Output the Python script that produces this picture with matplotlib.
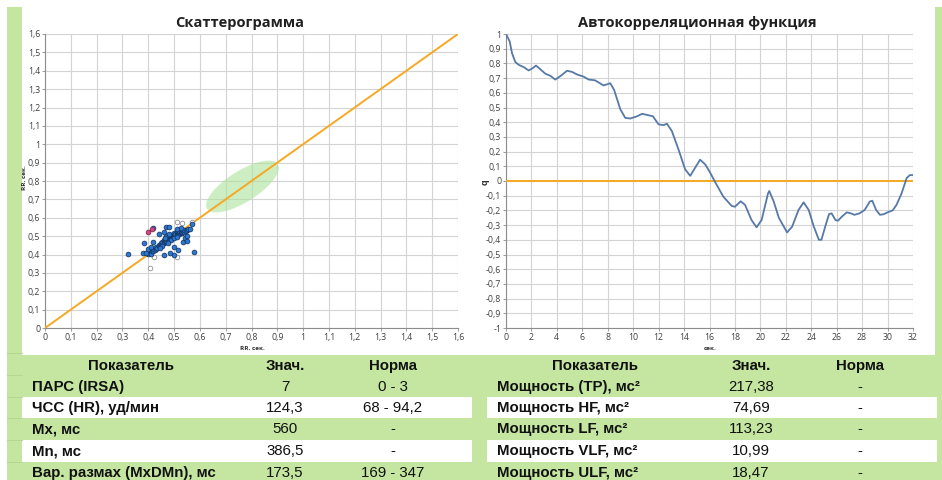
import matplotlib
matplotlib.use("Agg")
import matplotlib.pyplot as plt
import numpy as np
from matplotlib.patches import Rectangle, Polygon

# ---------------- data ----------------
# Scatterogram (RR_n vs RR_n+1), seconds
rr_x = [0.400,0.405,0.410,0.410,0.415,0.420,0.420,0.425,0.430,0.430,0.435,0.440,0.440,0.445,0.450,0.450,
        0.455,0.455,0.460,0.460,0.460,0.465,0.465,0.470,0.470,0.470,0.475,0.475,0.480,0.480,0.480,0.485,
        0.485,0.490,0.490,0.490,0.495,0.495,0.500,0.500,0.500,0.505,0.505,0.510,0.510,0.510,0.515,0.515,
        0.520,0.520,0.520,0.525,0.525,0.530,0.530,0.535,0.540,0.540,0.545,0.550,0.555,0.470,0.480,0.465,
        0.490,0.500,0.510,0.455,0.445,0.475,
        0.322,0.385,0.380,0.390,0.420,0.440,0.420,0.460,0.485,0.500,0.517,0.500,0.535,0.578,0.562,0.570,
        0.468,0.480,0.543,0.550,0.550,0.525,0.510,0.460,0.400,0.410]
rr_y = [0.405,0.410,0.415,0.402,0.420,0.418,0.428,0.425,0.432,0.440,0.438,0.445,0.452,0.448,0.455,0.462,
        0.458,0.468,0.462,0.470,0.478,0.472,0.480,0.475,0.485,0.492,0.480,0.488,0.482,0.490,0.498,0.487,
        0.495,0.490,0.500,0.508,0.495,0.505,0.498,0.508,0.515,0.502,0.512,0.505,0.515,0.522,0.512,0.525,
        0.510,0.520,0.530,0.518,0.528,0.515,0.525,0.530,0.522,0.535,0.528,0.535,0.540,0.500,0.510,0.490,
        0.480,0.490,0.495,0.445,0.435,0.465,
        0.402,0.460,0.410,0.410,0.545,0.510,0.470,0.400,0.410,0.400,0.425,0.440,0.470,0.415,0.540,0.565,
        0.550,0.550,0.490,0.500,0.475,0.545,0.540,0.525,0.430,0.440]
grey_x = [0.510, 0.530, 0.570, 0.423, 0.510, 0.405]
grey_y = [0.575, 0.570, 0.575, 0.385, 0.385, 0.325]
pink_x = [0.400, 0.413]
pink_y = [0.525, 0.540]
ellipse_center = (0.765, 0.77)
ellipse_axes = (0.185, 0.074)   # semi-axes along / across diagonal (data units)

# Autocorrelation function
acf_t = [0.0,0.29,0.47,0.73,1.0,1.39,1.78,2.05,2.36,2.7,3.09,3.5,3.87,4.3,4.8,5.2,5.58,6.1,6.5,7.0,7.67,
         8.2,8.5,8.98,9.37,9.77,10.3,10.7,11.07,11.55,12.0,12.4,12.65,13.04,13.56,14.08,14.48,14.87,15.26,
         15.66,16.05,16.44,17.09,17.75,18.0,18.45,18.8,19.3,19.7,20.1,20.6,20.7,21.05,21.45,22.1,22.5,23.0,
         23.4,23.8,24.2,24.6,24.8,25.1,25.4,25.6,25.9,26.1,26.4,26.8,27.1,27.4,27.8,28.2,28.6,28.8,29.1,
         29.4,29.7,30.0,30.4,30.7,31.1,31.5,31.75,32.0]
acf_q = [1.0,0.95,0.87,0.81,0.79,0.775,0.752,0.765,0.785,0.76,0.73,0.715,0.69,0.715,0.75,0.742,0.725,0.71,
         0.69,0.685,0.65,0.665,0.62,0.49,0.43,0.425,0.44,0.457,0.45,0.44,0.385,0.38,0.39,0.34,0.215,0.08,
         0.035,0.09,0.145,0.113,0.057,-0.007,-0.107,-0.17,-0.175,-0.138,-0.163,-0.265,-0.315,-0.265,-0.085,
         -0.068,-0.14,-0.25,-0.35,-0.31,-0.197,-0.145,-0.197,-0.31,-0.40,-0.40,-0.31,-0.225,-0.22,-0.265,
         -0.27,-0.243,-0.213,-0.22,-0.23,-0.22,-0.197,-0.14,-0.134,-0.197,-0.23,-0.226,-0.213,-0.2,-0.163,
         -0.085,0.02,0.04,0.04]

sc_ticks = [0,0.1,0.2,0.3,0.4,0.5,0.6,0.7,0.8,0.9,1.0,1.1,1.2,1.3,1.4,1.5,1.6]
sc_labels = ["0","0,1","0,2","0,3","0,4","0,5","0,6","0,7","0,8","0,9","1","1,1","1,2","1,3","1,4","1,5","1,6"]
acf_xticks = [0,2,4,6,8,10,12,14,16,18,20,22,24,26,28,30,32]
acf_xlabels = ["0","2","4","6","8","10","12","14","16","18","20","22","24","26","28","30","32"]
acf_yticks = [1,0.9,0.8,0.7,0.6,0.5,0.4,0.3,0.2,0.1,0,-0.1,-0.2,-0.3,-0.4,-0.5,-0.6,-0.7,-0.8,-0.9,-1]
acf_ylabels = ["1","0,9","0,8","0,7","0,6","0,5","0,4","0,3","0,2","0,1","0","-0,1","-0,2","-0,3","-0,4",
               "-0,5","-0,6","-0,7","-0,8","-0,9","-1"]

table_header = ["Показатель", "Знач.", "Норма"]
left_names = ["ПАРС (IRSA)", "ЧСС (HR), уд/мин", "Mx, мс", "Mn, мс", "Вар. размах (MxDMn), мс"]
left_values = ["7", "124,3", "560", "386,5", "173,5"]
left_norms = ["0 - 3", "68 - 94,2", "-", "-", "169 - 347"]
right_names = ["Мощность (TP), мс²", "Мощность HF, мс²", "Мощность LF, мс²", "Мощность VLF, мс²", "Мощность ULF, мс²"]
right_values = ["217,38", "74,69", "113,23", "10,99", "18,47"]
right_norms = ["-", "-", "-", "-", "-"]

# ---------------- figure ----------------
W, H = 942, 480
GREEN = "#c4e6a0"
ORANGE = "#f7a823"
fig = plt.figure(figsize=(W/100, H/100), dpi=100, facecolor="white")

def fx(x): return x / W
def fy(y): return 1 - y / H

def rect(x0, y0, x1, y1, color, z=-5):
    fig.patches.append(Rectangle((fx(x0), fy(y1)), (x1-x0)/W, (y1-y0)/H, transform=fig.transFigure,
                                 facecolor=color, edgecolor="none", zorder=z))

rect(7, 7, 942, 480, GREEN, -10)
rect(22, 7, 935, 355, "white", -9)
for (a, b) in [(397, 418), (440, 462)]:
    rect(22, a, 472, b, "white", -9)
    rect(487, a, 937, b, "white", -9)
for yy in [353, 375, 397, 418, 440, 462]:
    fig.lines.append(plt.Line2D([fx(7), fx(22)], [fy(yy), fy(yy)], transform=fig.transFigure,
                                color="#b2d68e", lw=0.6, zorder=-4))

TICKFONT = dict(family="Open Sans", size=6.3, color="#404040")

def style_axes(ax):
    ax.grid(True, color="#d4d4d4", lw=0.8)
    ax.set_axisbelow(True)
    for s in ["top", "right"]:
        ax.spines[s].set_visible(False)
    for s in ["left", "bottom"]:
        ax.spines[s].set_color("#8c8c8c")
        ax.spines[s].set_linewidth(0.8)
    ax.tick_params(length=2.5, width=0.6, color="#8c8c8c", pad=1.0)
    for lab in ax.get_xticklabels() + ax.get_yticklabels():
        lab.set_fontfamily(TICKFONT["family"]); lab.set_fontsize(TICKFONT["size"]); lab.set_color(TICKFONT["color"])

# Scatterogram
ax1 = fig.add_axes([fx(45), fy(328), (458-45)/W, (328-34)/H])
ax1.set_xlim(0, 1.6); ax1.set_ylim(0, 1.6)
ax1.set_xticks(sc_ticks, sc_labels); ax1.set_yticks(sc_ticks, sc_labels)
style_axes(ax1)
t = np.linspace(0, 2*np.pi, 100)
ux, uy = np.array([1, 1]) / np.sqrt(2), np.array([-1, 1]) / np.sqrt(2)
ex = ellipse_center[0] + ellipse_axes[0]*np.cos(t)*ux[0] + ellipse_axes[1]*np.sin(t)*uy[0]
ey = ellipse_center[1] + ellipse_axes[0]*np.cos(t)*ux[1] + ellipse_axes[1]*np.sin(t)*uy[1]
ax1.add_patch(Polygon(np.column_stack([ex, ey]), closed=True, facecolor="#ace29c", alpha=0.6,
                      edgecolor="none", zorder=2))
ax1.plot([0, 1.6], [0, 1.6], color=ORANGE, lw=1.4, zorder=3)
ax1.scatter(grey_x, grey_y, s=11, facecolor="white", edgecolor="#909090", lw=0.6, zorder=4)
ax1.scatter(rr_x, rr_y, s=12, facecolor="#2a78d0", edgecolor="#14305a", lw=0.5, zorder=5)
ax1.scatter(pink_x, pink_y, s=12, facecolor="#d2478a", edgecolor="#70203f", lw=0.5, zorder=6)

# ACF
ax2 = fig.add_axes([fx(506), fy(328), (913-506)/W, (328-34)/H])
ax2.set_xlim(0, 32); ax2.set_ylim(-1, 1)
ax2.set_xticks(acf_xticks, acf_xlabels); ax2.set_yticks(acf_yticks, acf_ylabels)
style_axes(ax2)
ax2.axhline(0, color=ORANGE, lw=1.4, zorder=3)
ax2.plot(acf_t, acf_q, color="#5679a8", lw=1.3, zorder=4, solid_joinstyle="round")

# titles and axis labels
TF = dict(family="Open Sans", weight="bold", size=10.5, color="#202020", ha="center", va="center")
fig.text(fx(240), fy(23), "Скаттерограмма", **TF)
fig.text(fx(697), fy(23), "Автокорреляционная функция", **TF)
LF = dict(family="Open Sans", weight="bold", size=4.6, color="#303030")
fig.text(fx(252), fy(348), "RR, сек.", ha="center", va="center", **LF)
fig.text(fx(24.5), fy(178), "RR, сек.", ha="center", va="center", rotation=90, **LF)
fig.text(fx(710), fy(348), "сек.", ha="center", va="center", **LF)
fig.text(fx(485), fy(182), "q", ha="center", va="center", rotation=90,
         family="Open Sans", weight="bold", size=6.5, color="#303030")

# tables
FT = dict(family="Liberation Sans", size=10.8, color="#111111", va="center")
hdr_y = 366
row_y = [387, 408, 429, 451, 473]
# left
fig.text(fx(131), fy(hdr_y), table_header[0], ha="center", weight="bold", **FT)
fig.text(fx(285), fy(hdr_y), table_header[1], ha="center", weight="bold", **FT)
fig.text(fx(393), fy(hdr_y), table_header[2], ha="center", weight="bold", **FT)
for i in range(5):
    fig.text(fx(32), fy(row_y[i]), left_names[i], ha="left", weight="bold", **FT)
    fig.text(fx(285), fy(row_y[i]), left_values[i], ha="center", **FT)
    fig.text(fx(393), fy(row_y[i]), left_norms[i], ha="center", **FT)
# right
fig.text(fx(595), fy(hdr_y), table_header[0], ha="center", weight="bold", **FT)
fig.text(fx(751), fy(hdr_y), table_header[1], ha="center", weight="bold", **FT)
fig.text(fx(860), fy(hdr_y), table_header[2], ha="center", weight="bold", **FT)
for i in range(5):
    fig.text(fx(497), fy(row_y[i]), right_names[i], ha="left", weight="bold", **FT)
    fig.text(fx(751), fy(row_y[i]), right_values[i], ha="center", **FT)
    fig.text(fx(860), fy(row_y[i]), right_norms[i], ha="center", **FT)

fig.savefig("out.png", dpi=100, facecolor=fig.get_facecolor())
